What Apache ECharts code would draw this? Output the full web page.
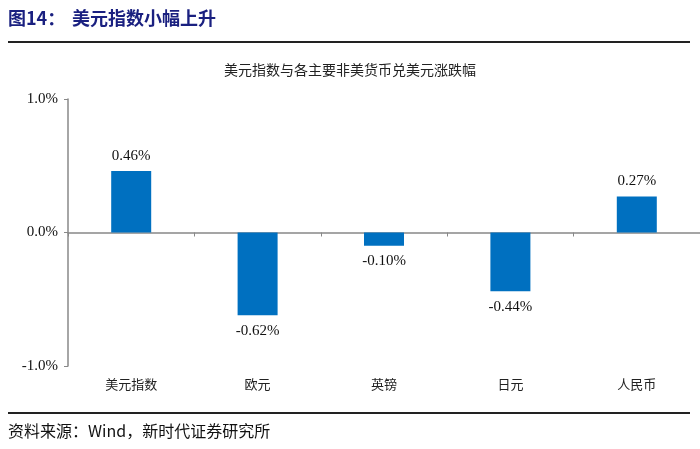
<!DOCTYPE html>
<html>
<head>
<meta charset="utf-8">
<script src="https://cdn.jsdelivr.net/npm/echarts@6/dist/echarts.min.js"></script>
<style>html,body{margin:0;padding:0;background:#fff;}#c{width:700px;height:449px;}</style>
</head>
<body>
<div id="c"></div>
<script>
const categories = ['美元指数', '欧元', '英镑', '日元', '人民币'];
const changes = [0.46, -0.62, -0.10, -0.44, 0.27];
const yTicks = [-1.0, 0.0, 1.0];

const chart = echarts.init(document.getElementById('c'));
const serif = '"Liberation Serif", "Noto Sans CJK SC", serif';
const cjk = '"Noto Sans CJK SC", sans-serif';
const headStyle = { fontFamily: cjk, fontSize: 18, fontWeight: 'bold', color: '#1a2080' };
chart.setOption({
  animation: false,
  backgroundColor: '#fff',
  title: [
    { text: '图14：', left: 3, top: 4, textStyle: headStyle },
    { text: '美元指数小幅上升', left: 67, top: 4, textStyle: headStyle },
    { text: '美元指数与各主要非美货币兑美元涨跌幅', left: 'center', top: 58,
      textStyle: { fontFamily: cjk, fontSize: 14, fontWeight: 'normal', color: '#222' } },
    { text: '资料来源：Wind，新时代证券研究所', left: 3, top: 418,
      textStyle: { fontFamily: cjk, fontSize: 16, fontWeight: 'normal', color: '#111' } }
  ],
  graphic: [
    { type: 'line', shape: { x1: 8, y1: 42, x2: 690, y2: 42 }, style: { stroke: '#222', lineWidth: 2 } },
    { type: 'line', shape: { x1: 8, y1: 413, x2: 690, y2: 413 }, style: { stroke: '#222', lineWidth: 2 } }
  ],
  grid: { left: 68, right: 0, top: 99, bottom: 83 },
  xAxis: [
    { type: 'category', data: categories, position: 'bottom',
      axisLine: { show: false, onZero: false }, axisTick: { show: false },
      axisLabel: { fontFamily: cjk, fontSize: 13, color: '#222', margin: 12 } },
    { type: 'category', data: categories, position: 'bottom',
      axisLine: { show: true, onZero: true, lineStyle: { color: '#888', width: 1.5 } },
      axisTick: { show: true, length: 4, lineStyle: { color: '#888' } },
      axisLabel: { show: false } }
  ],
  yAxis: {
    type: 'value', min: yTicks[0], max: yTicks[yTicks.length - 1], interval: 1,
    axisLine: { show: true, lineStyle: { color: '#888', width: 1.5 } },
    axisTick: { show: true, length: 4, lineStyle: { color: '#888' } },
    splitLine: { show: false },
    axisLabel: { fontFamily: serif, fontSize: 15, color: '#111', margin: 10,
      formatter: v => v.toFixed(1) + '%' }
  },
  series: [{
    type: 'bar', xAxisIndex: 0, barWidth: 40,
    data: changes.map(v => ({ value: v, label: { position: v < 0 ? 'bottom' : 'top' } })),
    itemStyle: { color: '#0070c0' },
    label: {
      show: true, fontFamily: serif, fontSize: 15, color: '#111', distance: 8,
      formatter: p => p.value.toFixed(2) + '%'
    }
  }]
});
</script>
</body>
</html>
